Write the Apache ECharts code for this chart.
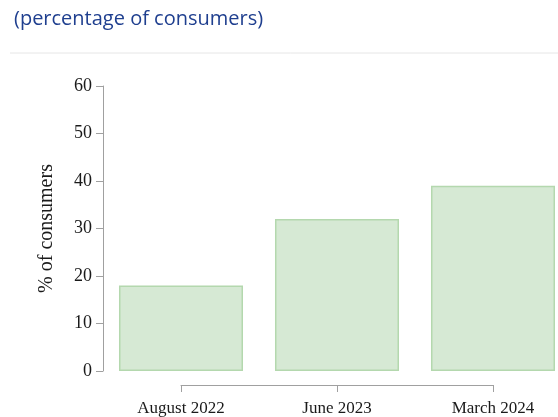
<!DOCTYPE html>
<html>
<head>
<meta charset="utf-8">
<script src="https://cdn.jsdelivr.net/npm/echarts@6/dist/echarts.min.js"></script>
<style>
html,body{margin:0;padding:0;background:#fff;overflow:hidden;}
#chart{width:571px;height:417px;}
</style>
</head>
<body>
<div id="chart"></div>
<script>
var categories = ['August 2022', 'June 2023', 'March 2024'];
var values = [18, 32, 39];
var yTicks = [0, 10, 20, 30, 40, 50, 60];
var titleText = '(percentage of consumers)';
var yAxisName = '% of consumers';

var chart = echarts.init(document.getElementById('chart'));
var serif = '"Liberation Serif", "DejaVu Serif", serif';
chart.setOption({
  animation: false,
  title: {
    text: titleText,
    left: 9, top: 4,
    textStyle: { fontFamily: '"Open Sans", sans-serif', fontSize: 20, fontWeight: 'normal', color: '#1f3f8f' }
  },
  graphic: [{
    type: 'line',
    shape: { x1: 10, y1: 53, x2: 571, y2: 53 },
    style: { stroke: '#e6e6e6', lineWidth: 1 }
  }],
  grid: [
    { left: 103, right: 0, top: 86, bottom: 46 },
    { left: 181, right: 78, top: 86, bottom: 31 }
  ],
  xAxis: [
    { gridIndex: 0, type: 'category', data: categories, show: false },
    {
      gridIndex: 1, type: 'category', data: categories, boundaryGap: false,
      axisLine: { show: true, lineStyle: { color: '#a0a0a0', width: 1 } },
      axisTick: { show: true, length: 7, lineStyle: { color: '#a0a0a0' } },
      axisLabel: { margin: 15, fontFamily: serif, fontSize: 17, color: '#1a1a1a' },
      splitLine: { show: false }
    }
  ],
  yAxis: [
    {
      gridIndex: 0, type: 'value', min: yTicks[0], max: yTicks[yTicks.length - 1], interval: 10,
      name: yAxisName, nameLocation: 'middle', nameGap: 46,
      nameTextStyle: { fontFamily: serif, fontSize: 20, color: '#1a1a1a' },
      axisLine: { show: true, lineStyle: { color: '#a0a0a0', width: 1 } },
      axisTick: { show: true, length: 7, lineStyle: { color: '#a0a0a0' } },
      axisLabel: { margin: 11, fontFamily: serif, fontSize: 18, color: '#1a1a1a' },
      splitLine: { show: false }
    },
    { gridIndex: 1, type: 'value', show: false, min: 0, max: 60 }
  ],
  series: [{
    type: 'bar',
    xAxisIndex: 0, yAxisIndex: 0,
    data: values,
    barCategoryGap: '20.5%',
    itemStyle: { color: '#d6e9d4', borderColor: '#b4d8ae', borderWidth: 1.5 }
  }]
});
</script>
</body>
</html>
